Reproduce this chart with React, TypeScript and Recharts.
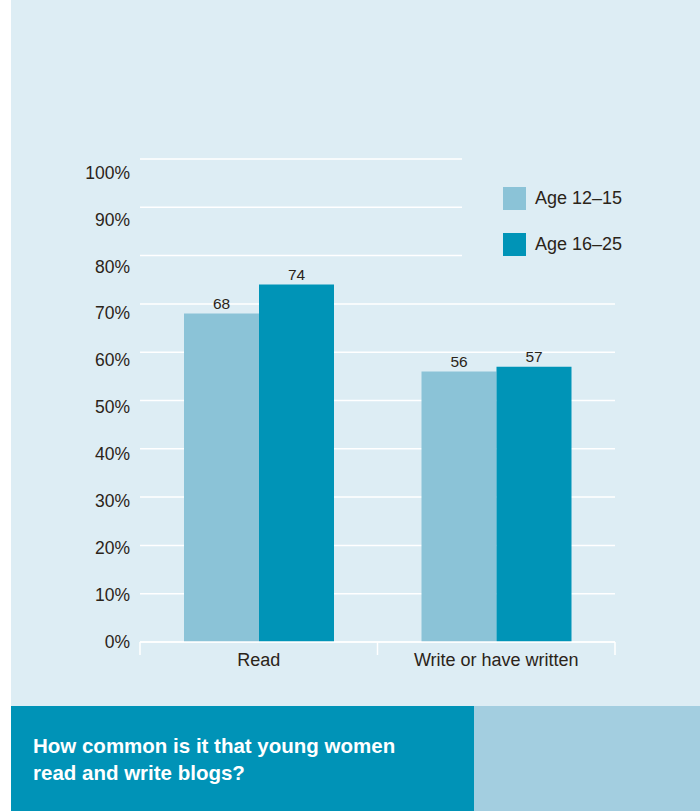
import React from "react";
import { Bar, BarChart, CartesianGrid, LabelList, Legend, XAxis, YAxis } from "recharts";

const categories = ["Read", "Write or have written"];
const age1215 = [68, 56];
const age1625 = [74, 57];
const seriesNames = ["Age 12\u201315", "Age 16\u201325"];
const yTicks = [0, 10, 20, 30, 40, 50, 60, 70, 80, 90, 100];

const data = categories.map((name, i) => ({ name, a: age1215[i], b: age1625[i] }));

const W = 700;
const H = 706;
const margin = { top: 159, right: 85, bottom: 34, left: 80 };
const yAxisWidth = 60;
const bandWidth = (W - margin.left - yAxisWidth - margin.right) / categories.length;
const plotBottom = H - margin.bottom - 30;

const font = '"Liberation Sans", Arial, Helvetica, sans-serif';
const textColor = "#2b2419";
const bg = "#ddedf4";
const light = "#8bc3d7";
const dark = "#0094b7";

// the printed labels sit on a slightly tighter spacing than the gridlines
function YTick(props: any) {
  const { x, y, payload } = props;
  const ty = plotBottom + (y - plotBottom) * 0.972;
  return (
    <text x={x} y={ty} dy="0.35em" textAnchor="end" fontSize={17.5} fill={textColor} fontFamily={font}>
      {`${payload.value}%`}
    </text>
  );
}

function XTick(props: any) {
  const { x, y, payload, index, visibleTicksCount } = props;
  const left = x - bandWidth / 2;
  const right = x + bandWidth / 2;
  return (
    <g>
      <line x1={left} y1={y} x2={left} y2={y + 13} stroke="#fff" strokeWidth={1.5} />
      {index === visibleTicksCount - 1 && (
        <line x1={right} y1={y} x2={right} y2={y + 13} stroke="#fff" strokeWidth={1.5} />
      )}
      <text x={x} y={y + 24} textAnchor="middle" fontSize={18} fill={textColor} fontFamily={font}>
        {payload.value}
      </text>
    </g>
  );
}

function LegendBox() {
  const colors = [light, dark];
  return (
    <div style={{ width: 154, height: 138, background: bg, position: "relative" }}>
      {seriesNames.map((n, i) => (
        <div
          key={n}
          style={{ position: "absolute", left: 41, top: 37 + i * 46, display: "flex", alignItems: "center", whiteSpace: "nowrap" }}
        >
          <div style={{ width: 23, height: 23, background: colors[i], flexShrink: 0 }} />
          <span style={{ marginLeft: 9, fontSize: 18, color: textColor, fontFamily: font, lineHeight: "23px" }}>
            {n}
          </span>
        </div>
      ))}
    </div>
  );
}

export default function App() {
  return (
    <div style={{ position: "absolute", left: 0, top: 0, width: 700, height: 811, background: "#fff", fontFamily: font }}>
      <div style={{ position: "absolute", left: 11, top: 0, width: 689, height: 706, background: bg }} />
      <div style={{ position: "absolute", left: 0, top: 0 }}>
        <BarChart width={W} height={H} data={data} margin={margin} barGap={0}>
          <CartesianGrid vertical={false} stroke="#fff" strokeWidth={1.5} />
          <YAxis
            width={yAxisWidth}
            domain={[0, 100]}
            ticks={yTicks}
            interval={0}
            axisLine={false}
            tickLine={false}
            tickMargin={4}
            tick={<YTick />}
          />
          <XAxis
            dataKey="name"
            height={30}
            axisLine={{ stroke: "#fff", strokeWidth: 1.5 }}
            tickLine={false}
            tickSize={0}
            tickMargin={0}
            interval={0}
            tick={<XTick />}
          />
          <Legend
            content={<LegendBox />}
            wrapperStyle={{ position: "absolute", left: 462, top: 150, width: 0, height: 0 }}
          />
          <Bar dataKey="a" name={seriesNames[0]} fill={light} barSize={75} isAnimationActive={false}>
            <LabelList dataKey="a" position="top" offset={5} fontSize={15.5} fill={textColor} fontFamily={font} />
          </Bar>
          <Bar dataKey="b" name={seriesNames[1]} fill={dark} barSize={75} isAnimationActive={false}>
            <LabelList dataKey="b" position="top" offset={5} fontSize={15.5} fill={textColor} fontFamily={font} />
          </Bar>
        </BarChart>
      </div>
      <div style={{ position: "absolute", left: 11, top: 706, width: 463, height: 105, background: "#0093b7" }}>
        <div
          style={{
            position: "absolute",
            left: 22,
            top: 26,
            color: "#fff",
            fontWeight: "bold",
            fontSize: 20.5,
            lineHeight: "27px",
            whiteSpace: "nowrap",
          }}
        >
          How common is it that young women
          <br />
          read and write blogs?
        </div>
      </div>
      <div style={{ position: "absolute", left: 474, top: 706, width: 226, height: 105, background: "#a3cee0" }} />
    </div>
  );
}
